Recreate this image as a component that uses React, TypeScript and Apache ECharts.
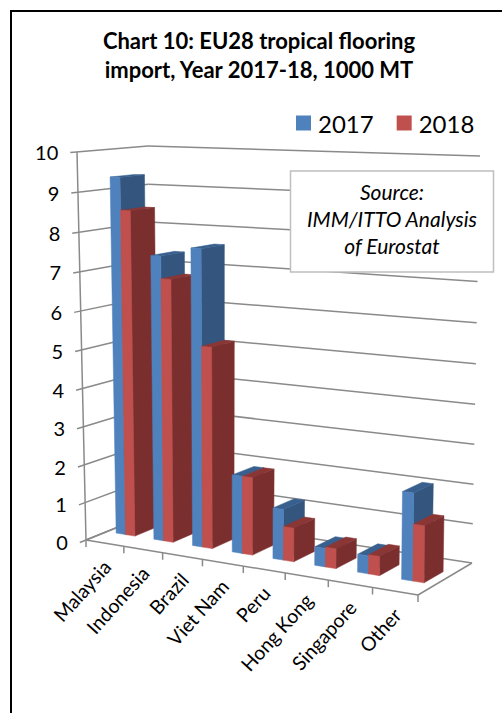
import React, { useEffect, useRef } from "react";
import * as echarts from "echarts";

const categories = ["Malaysia", "Indonesia", "Brazil", "Viet Nam", "Peru", "Hong Kong", "Singapore", "Other"];
const values2017 = [9.33, 7.4, 7.65, 2.0, 1.3, 0.47, 0.45, 2.16];
const values2018 = [8.5, 6.83, 5.2, 2.0, 0.86, 0.5, 0.48, 1.4];
const yTicks = [0, 1, 2, 3, 4, 5, 6, 7, 8, 9, 10];
const titleText = "Chart 10: EU28 tropical flooring\nimport, Year 2017-18, 1000 MT";
const sourceText = "Source:\nIMM/ITTO Analysis\nof Eurostat";

type P = [number, number];
// projection corners of the 3D chart box: front-left, front-right, back-right, back-left
const floorQuad: P[] = [[86, 540], [418, 595], [472, 563], [151, 513.7]];
const topQuad: P[] = [[77, 152], [421, 163], [480, 156], [148, 146]];
const VERTICAL_PERSPECTIVE = 0.04;

function homography(q: P[]) {
  const [[x0, y0], [x1, y1], [x2, y2], [x3, y3]] = q;
  const dx1 = x1 - x2, dx2 = x3 - x2, sx = x0 - x1 + x2 - x3;
  const dy1 = y1 - y2, dy2 = y3 - y2, sy = y0 - y1 + y2 - y3;
  const det = dx1 * dy2 - dx2 * dy1;
  const g = (sx * dy2 - dx2 * sy) / det;
  const h = (dx1 * sy - sx * dy1) / det;
  const a = x1 - x0 + g * x1, b = x3 - x0 + h * x3, c = x0;
  const d = y1 - y0 + g * y1, e = y3 - y0 + h * y3, f = y0;
  return (u: number, w: number): P => {
    const k = g * u + h * w + 1;
    return [(a * u + b * w + c) / k, (d * u + e * w + f) / k];
  };
}
const floorH = homography(floorQuad);
const topH = homography(topQuad);
const project = (u: number, w: number, v: number): P => {
  const a = floorH(u, w), b = topH(u, w);
  const p = VERTICAL_PERSPECTIVE;
  const t = (v * (1 - p)) / (1 - p * v);
  return [a[0] + (b[0] - a[0]) * t, a[1] + (b[1] - a[1]) * t];
};

const DEPTH_FRONT = 0.31;
const DEPTH_BACK = 0.66;
const LINE = "#8a8a8a";
const FONT = "Lato, sans-serif";

function norm(params: any, api: any, i: number, val: number) {
  const cs = params.coordSys;
  const c = api.coord([i, val]);
  return { u: (c[0] - cs.x) / cs.width, v: 1 - (c[1] - cs.y) / cs.height, band: api.size([1, 0])[0] / cs.width };
}

function barRender(offset: number, front: string, side: string, top: string, order: number) {
  return (params: any, api: any) => {
    const i = api.value(0);
    const { u, v, band } = norm(params, api, i, api.value(1));
    const u0 = u + offset * band;
    const u1 = u0 + 0.25 * band;
    const [a, b] = [DEPTH_FRONT, DEPTH_BACK];
    const poly = (pts: P[], fill: string, z: number) => ({
      type: "polygon",
      z2: (i * 2 + order) * 3 + z,
      shape: { points: pts },
      style: { fill, stroke: fill, lineWidth: 0.5 },
    });
    return {
      type: "group",
      children: [
        poly([project(u1, a, 0), project(u1, b, 0), project(u1, b, v), project(u1, a, v)], side, 0),
        poly([project(u0, a, v), project(u1, a, v), project(u1, b, v), project(u0, b, v)], top, 1),
        poly([project(u0, a, 0), project(u1, a, 0), project(u1, a, v), project(u0, a, v)], front, 2),
      ],
    };
  };
}

function seg(a: P, b: P) {
  return {
    type: "line",
    z2: -5,
    shape: { x1: a[0], y1: a[1], x2: b[0], y2: b[1] },
    style: { stroke: LINE, lineWidth: 1.5 },
  };
}

function gridRender(params: any, api: any) {
  const tick = api.value(1);
  const { v } = norm(params, api, 0, tick);
  const left = project(0, -0.09, v);
  const children: any[] = [
    seg(left, project(0, 1, v)),
    seg(project(0, 1, v), project(1, 1, v)),
  ];
  children.push({
    type: "text",
    x: left[0] - 12,
    y: left[1] - 0.5,
    style: { text: String(tick), align: "right", verticalAlign: "middle", font: `20px ${FONT}`, fill: "#000" },
  });
  return { type: "group", children };
}

function axisRender(params: any, api: any) {
  const i = api.value(0);
  const { u, band } = norm(params, api, i, 0);
  const u0 = u - band / 2;
  const children: any[] = [];
  const p = project(u0, 0, 0);
  children.push(seg(p, [p[0], p[1] + 7]));
  if (i === 0) {
    children.push(seg(project(0, 0, 0), project(1, 0, 0)));
    children.push(seg(project(1, 0, 0), project(1, 1, 0)));
    children.push(seg(project(0, 0, 0), project(0, 0, 1)));
    children.push(seg(project(0, 0, 0), project(0, 1, 0)));
  }
  if (i === categories.length - 1) {
    const e = project(1, 0, 0);
    children.push(seg(e, [e[0], e[1] + 7]));
  }
  const c = project(u, 0, 0);
  children.push({
    type: "text",
    x: c[0] + 2,
    y: c[1] + 20,
    rotation: (48 * Math.PI) / 180,
    style: { text: categories[i], align: "right", verticalAlign: "middle", font: `19.5px ${FONT}`, fill: "#000" },
  });
  return { type: "group", children };
}

export default function App() {
  const ref = useRef<HTMLDivElement>(null);
  useEffect(() => {
    document.body.style.margin = "0";
    const chart = echarts.init(ref.current!, null, { renderer: "svg" });
    chart.setOption({
      animation: false,
      backgroundColor: "#fff",
      title: {
        text: titleText,
        left: 254,
        top: 21,
        textAlign: "center",
        textStyle: { fontFamily: FONT, fontWeight: "bold", fontSize: 22, lineHeight: 29, color: "#000" },
      },
      legend: {
        data: ["2017", "2018"],
        left: 291,
        top: 106,
        icon: "rect",
        itemWidth: 15,
        itemHeight: 15,
        itemGap: 23,
        textStyle: { fontFamily: FONT, fontSize: 24, color: "#000", padding: [0, 0, 0, 2] },
        selectedMode: false,
      },
      grid: { left: 86, top: 152, width: 332, height: 388 },
      xAxis: { type: "category", data: categories, show: false },
      yAxis: { type: "value", min: 0, max: 10, interval: 1, show: false },
      graphic: [
        {
          type: "polyline",
          silent: true,
          shape: { points: [[11, 713], [11, 11], [502, 11]] },
          style: { stroke: "#000", lineWidth: 2, fill: "none" },
        },
        {
          type: "rect",
          z: 50,
          shape: { x: 290.5, y: 171, width: 203, height: 101 },
          style: { fill: "#fff", stroke: "#bfbfbf", lineWidth: 1.5 },
        },
        {
          type: "text",
          z: 51,
          x: 392,
          y: 218.5,
          style: {
            text: sourceText,
            align: "center",
            verticalAlign: "middle",
            font: `italic 21px ${FONT}`,
            lineHeight: 27,
            fill: "#000",
          },
        },
      ],
      series: [
        {
          name: "grid",
          type: "custom",
          silent: true,
          z: 1,
          renderItem: gridRender,
          encode: { x: 0, y: 1 },
          data: yTicks.map((t) => [0, t]),
        },
        {
          name: "axis",
          type: "custom",
          silent: true,
          z: 1,
          renderItem: axisRender,
          encode: { x: 0, y: 1 },
          data: categories.map((_, i) => [i, 0]),
        },
        {
          name: "2017",
          type: "custom",
          z: 2,
          itemStyle: { color: "#4f81bd" },
          renderItem: barRender(-0.25, "#4f81bd", "#33557e", "#38608f", 0),
          encode: { x: 0, y: 1 },
          data: values2017.map((v, i) => [i, v]),
        },
        {
          name: "2018",
          type: "custom",
          z: 2,
          itemStyle: { color: "#c0504d" },
          renderItem: barRender(0, "#c0504d", "#7a2f2e", "#8a3634", 1),
          encode: { x: 0, y: 1 },
          data: values2018.map((v, i) => [i, v]),
        },
      ],
    });
    return () => chart.dispose();
  }, []);
  return <div ref={ref} style={{ width: 502, height: 713 }} />;
}
